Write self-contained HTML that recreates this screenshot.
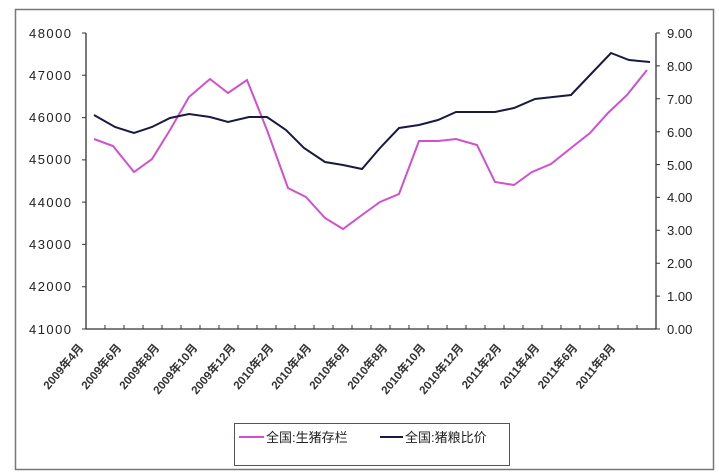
<!DOCTYPE html>
<html><head><meta charset="utf-8"><style>body{margin:0;background:#fff}svg{display:block}</style></head><body>
<svg width="719" height="473" xmlns="http://www.w3.org/2000/svg" font-family="Liberation Sans, Noto Sans CJK SC, sans-serif">
<rect x="15.5" y="9.5" width="698" height="460" fill="#fff" stroke="#777" stroke-width="1.5"/>
<g stroke="#333" stroke-width="1.3" fill="none">
<line x1="86" y1="33" x2="86" y2="329"/>
<line x1="656" y1="33" x2="656" y2="329"/>
<line x1="86" y1="329" x2="656" y2="329"/>
</g>
<g stroke="#333" stroke-width="1">
<path d="M82 33H86M82 75.3H86M82 117.6H86M82 159.9H86M82 202.1H86M82 244.4H86M82 286.7H86M82 329H86"/>
<path d="M656 33H660M656 65.9H660M656 98.8H660M656 131.7H660M656 164.6H660M656 197.4H660M656 230.3H660M656 263.2H660M656 296.1H660M656 329H660"/>
<path d="M105 329v-4M124 329v-4M143 329v-4M162 329v-4M181 329v-4M200 329v-4M219 329v-4M238 329v-4M257 329v-4M276 329v-4M295 329v-4M314 329v-4M333 329v-4M352 329v-4M371 329v-4M390 329v-4M409 329v-4M428 329v-4M447 329v-4M466 329v-4M485 329v-4M504 329v-4M523 329v-4M542 329v-4M561 329v-4M580 329v-4M599 329v-4M618 329v-4M637 329v-4"/>
</g>
<g font-size="13" fill="#222" text-anchor="end">
<text x="71" y="38" textLength="42">48000</text>
<text x="71" y="80" textLength="42">47000</text>
<text x="71" y="122" textLength="42">46000</text>
<text x="71" y="164" textLength="42">45000</text>
<text x="71" y="207" textLength="42">44000</text>
<text x="71" y="249" textLength="42">43000</text>
<text x="71" y="291" textLength="42">42000</text>
<text x="71" y="334" textLength="42">41000</text>
</g>
<g font-size="13" fill="#222">
<text x="667" y="38">9.00</text><text x="667" y="71">8.00</text><text x="667" y="104">7.00</text><text x="667" y="137">6.00</text><text x="667" y="170">5.00</text><text x="667" y="202">4.00</text><text x="667" y="235">3.00</text><text x="667" y="268">2.00</text><text x="667" y="301">1.00</text><text x="667" y="334">0.00</text>
</g>
<g font-size="11.5" font-weight="bold" fill="#333" text-anchor="end">
<text transform="translate(84,348) rotate(-50)">2009年4月</text>
<text transform="translate(122,348) rotate(-50)">2009年6月</text>
<text transform="translate(160,348) rotate(-50)">2009年8月</text>
<text transform="translate(198,348) rotate(-50)">2009年10月</text>
<text transform="translate(236,348) rotate(-50)">2009年12月</text>
<text transform="translate(274,348) rotate(-50)">2010年2月</text>
<text transform="translate(312,348) rotate(-50)">2010年4月</text>
<text transform="translate(350,348) rotate(-50)">2010年6月</text>
<text transform="translate(388,348) rotate(-50)">2010年8月</text>
<text transform="translate(426,348) rotate(-50)">2010年10月</text>
<text transform="translate(464,348) rotate(-50)">2010年12月</text>
<text transform="translate(502,348) rotate(-50)">2011年2月</text>
<text transform="translate(540,348) rotate(-50)">2011年4月</text>
<text transform="translate(578,348) rotate(-50)">2011年6月</text>
<text transform="translate(616,348) rotate(-50)">2011年8月</text>
</g>
<polyline fill="none" stroke="#d050d0" stroke-width="2" points="94,139 113,146 134,172 152,159 170,130 189,97 210,79 228,93 247,80 267,130 288,188 306,197 325,218 343,229 362,215 380,202 399,194 419,141 438,141 456,139 477,145 495,182 514,185 532,172 551,164 571,148 590,133 608,113 627,95 647,70"/>
<polyline fill="none" stroke="#1a1a40" stroke-width="2" points="94,115 115,127 134,133 152,127 170,118 189,114 210,117 228,122 249,117 267,117 286,130 304,148 325,162 343,165 362,169 380,148 399,128 419,125 438,120 456,112 477,112 495,112 514,108 535,99 553,97 571,95 590,75 611,53 629,60 650,62"/>
<rect x="234.5" y="423.5" width="275" height="42" fill="#fff" stroke="#555"/>
<line x1="239" y1="437" x2="264" y2="437" stroke="#d050d0" stroke-width="2"/>
<text x="266" y="442" font-size="13" fill="#222">全国:生猪存栏</text>
<line x1="380" y1="437" x2="403" y2="437" stroke="#1a1a40" stroke-width="2"/>
<text x="405" y="442" font-size="13" fill="#222">全国:猪粮比价</text>
</svg>
</body></html>
